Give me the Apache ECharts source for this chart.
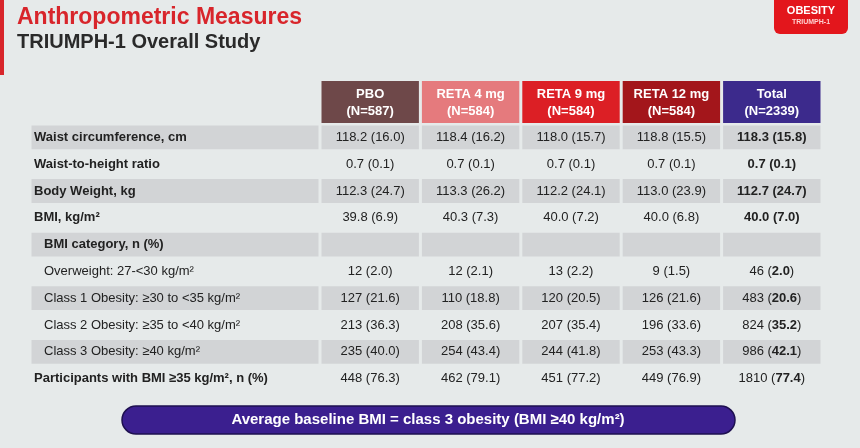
<!DOCTYPE html>
<html><head><meta charset="utf-8">
<script src="https://cdn.jsdelivr.net/npm/echarts@6/dist/echarts.min.js"></script>
<style>html,body{margin:0;padding:0;background:#e6eaea}#c{width:860px;height:448px}</style>
</head><body><div id="c"></div>
<script>
const columns = ['PBO\n(N=587)','RETA 4 mg\n(N=584)','RETA 9 mg\n(N=584)','RETA 12 mg\n(N=584)','Total\n(N=2339)'];
const headerColors = ['#6e4849','#e57a7d','#dc1f25','#a3161b','#3c2a8c'];
const rowLabels = ['Waist circumference, cm','Waist-to-height ratio','Body Weight, kg','BMI, kg/m²','BMI category, n (%)','Overweight: 27-<30 kg/m²','Class 1 Obesity: ≥30 to <35 kg/m²','Class 2 Obesity: ≥35 to <40 kg/m²','Class 3 Obesity: ≥40 kg/m²','Participants with BMI ≥35 kg/m², n (%)'];
const rowBold = [1,1,1,1,1,0,0,0,0,1];
const rowIndent = [0,0,0,0,1,1,1,1,1,0];
const pbo   = ['118.2 (16.0)','0.7 (0.1)','112.3 (24.7)','39.8 (6.9)','','12 (2.0)','127 (21.6)','213 (36.3)','235 (40.0)','448 (76.3)'];
const reta4 = ['118.4 (16.2)','0.7 (0.1)','113.3 (26.2)','40.3 (7.3)','','12 (2.1)','110 (18.8)','208 (35.6)','254 (43.4)','462 (79.1)'];
const reta9 = ['118.0 (15.7)','0.7 (0.1)','112.2 (24.1)','40.0 (7.2)','','13 (2.2)','120 (20.5)','207 (35.4)','244 (41.8)','451 (77.2)'];
const reta12= ['118.8 (15.5)','0.7 (0.1)','113.0 (23.9)','40.0 (6.8)','','9 (1.5)','126 (21.6)','196 (33.6)','253 (43.3)','449 (76.9)'];
const totalN= ['118.3','0.7','112.7','40.0','','46','483','824','986','1810'];
const totalP= ['(15.8)','(0.1)','(24.7)','(7.0)','','(2.0)','(20.6)','(35.2)','(42.1)','(77.4)'];

const FONT = "'Liberation Sans Narrow','Liberation Sans',Arial,sans-serif";
const cols = [pbo,reta4,reta9,reta12];
const cellData = [];
for (let r=0;r<rowLabels.length;r++){
  for (let c=0;c<4;c++) cellData.push([c,r,cols[c][r]]);
  cellData.push([4,r, totalN[r]==='' ? '' : (r<4 ? '{b|'+totalN[r]+' '+totalP[r]+'}' : '{n|'+totalN[r]+' (}{b|'+totalP[r].slice(1,-1)+'}{n|)}')]);
}
const labelData = rowLabels.map((l,r)=>[0,r,l]);
const headerData = columns.map((h,c)=>[c,0,h]);
const rowsIdx = rowLabels.map((_,i)=>String(i));

function shadeRect(r, x, y, w, h){
  return r%2===0 ? {type:'rect', shape:{x:x+1.5,y:y+1.5,width:w-3,height:h-3}, style:{fill:'#d2d4d6'}} : null;
}
const chart = echarts.init(document.getElementById('c'));
chart.setOption({
  backgroundColor:'#e6eaea',
  animation:false,
  title:[
    {text:'Anthropometric Measures', left:12, top:1, textStyle:{color:'#d8252b', fontSize:23, fontWeight:'bold', fontFamily:FONT}},
    {text:'TRIUMPH-1 Overall Study', left:12, top:27, textStyle:{color:'#2a2a2a', fontSize:20, fontWeight:'bold', fontFamily:FONT}}
  ],
  graphic:[
    {type:'rect', x:0, y:0, shape:{width:4,height:75}, style:{fill:'#d8252b'}},
    {type:'rect', x:774, y:-8, shape:{width:74,height:42,r:6}, style:{fill:'#e3161c'}},
    {type:'text', x:811, y:5, style:{text:'OBESITY', fill:'#fff', fontSize:11, fontWeight:'bold', fontFamily:FONT, align:'center'}},
    {type:'text', x:811, y:19, style:{text:'TRIUMPH-1', fill:'#ffd0d0', fontSize:7, fontWeight:'bold', fontFamily:FONT, align:'center'}},
    {type:'rect', x:122, y:406, shape:{width:613,height:28,r:14}, style:{fill:'#3b1f8f', stroke:'#1e1050', lineWidth:1.5}},
    {type:'text', x:428, y:420, style:{text:'Average baseline BMI = class 3 obesity (BMI ≥40 kg/m²)', fill:'#fff', fontSize:15, fontWeight:'bold', fontFamily:FONT, align:'center', verticalAlign:'middle'}}
  ],
  grid:[
    {left:30, width:290, top:124, height:268},
    {left:320, right:38, top:124, height:268},
    {left:320, right:38, top:81, height:43}
  ],
  xAxis:[
    {gridIndex:0, type:'category', data:['L'], show:false},
    {gridIndex:1, type:'category', data:columns, show:false},
    {gridIndex:2, type:'category', data:columns, show:false}
  ],
  yAxis:[
    {gridIndex:0, type:'category', data:rowsIdx, inverse:true, show:false},
    {gridIndex:1, type:'category', data:rowsIdx, inverse:true, show:false},
    {gridIndex:2, type:'category', data:['H'], show:false}
  ],
  series:[
    {type:'custom', xAxisIndex:0, yAxisIndex:0, data:labelData, renderItem:(p,api)=>{
      const r=api.value(1), c=api.coord([0,r]), s=api.size([1,1]);
      const x=c[0]-s[0]/2, y=c[1]-s[1]/2;
      const ch=[];
      const sh=shadeRect(r,x,y,s[0],s[1]); if(sh) ch.push(sh);
      ch.push({type:'text', style:{text:labelData[r][2], x:x+(rowIndent[r]?14:4), y:c[1], verticalAlign:'middle', fill:'#222', fontSize:13, fontWeight:rowBold[r]?'bold':'normal', fontFamily:FONT}});
      return {type:'group', children:ch};
    }},
    {type:'custom', xAxisIndex:1, yAxisIndex:1, data:cellData, renderItem:(p,api)=>{
      const col=api.value(0), r=api.value(1), c=api.coord([col,r]), s=api.size([1,1]);
      const x=c[0]-s[0]/2, y=c[1]-s[1]/2;
      const ch=[];
      const sh=shadeRect(r,x,y,s[0],s[1]); if(sh) ch.push(sh);
      const t=cellData[p.dataIndex][2];
      ch.push({type:'text', style:{text:t, x:c[0], y:c[1], align:'center', verticalAlign:'middle', fill:'#222', fontSize:13, fontFamily:FONT,
        rich:{b:{fontWeight:'bold', fontSize:13, fontFamily:FONT, fill:'#222'}, n:{fontSize:13, fontFamily:FONT, fill:'#222'}}}});
      return {type:'group', children:ch};
    }},
    {type:'custom', xAxisIndex:2, yAxisIndex:2, data:headerData, renderItem:(p,api)=>{
      const col=api.value(0), c=api.coord([col,0]), s=api.size([1,1]);
      const x=c[0]-s[0]/2, y=c[1]-s[1]/2;
      return {type:'group', children:[
        {type:'rect', shape:{x:x+1.5,y:y,width:s[0]-3,height:s[1]-1}, style:{fill:headerColors[col]}},
        {type:'text', style:{text:headerData[col][2], x:c[0], y:c[1], align:'center', verticalAlign:'middle', fill:'#fff', fontSize:13, fontWeight:'bold', fontFamily:FONT, lineHeight:17}}
      ]};
    }}
  ]
});
</script></body></html>
